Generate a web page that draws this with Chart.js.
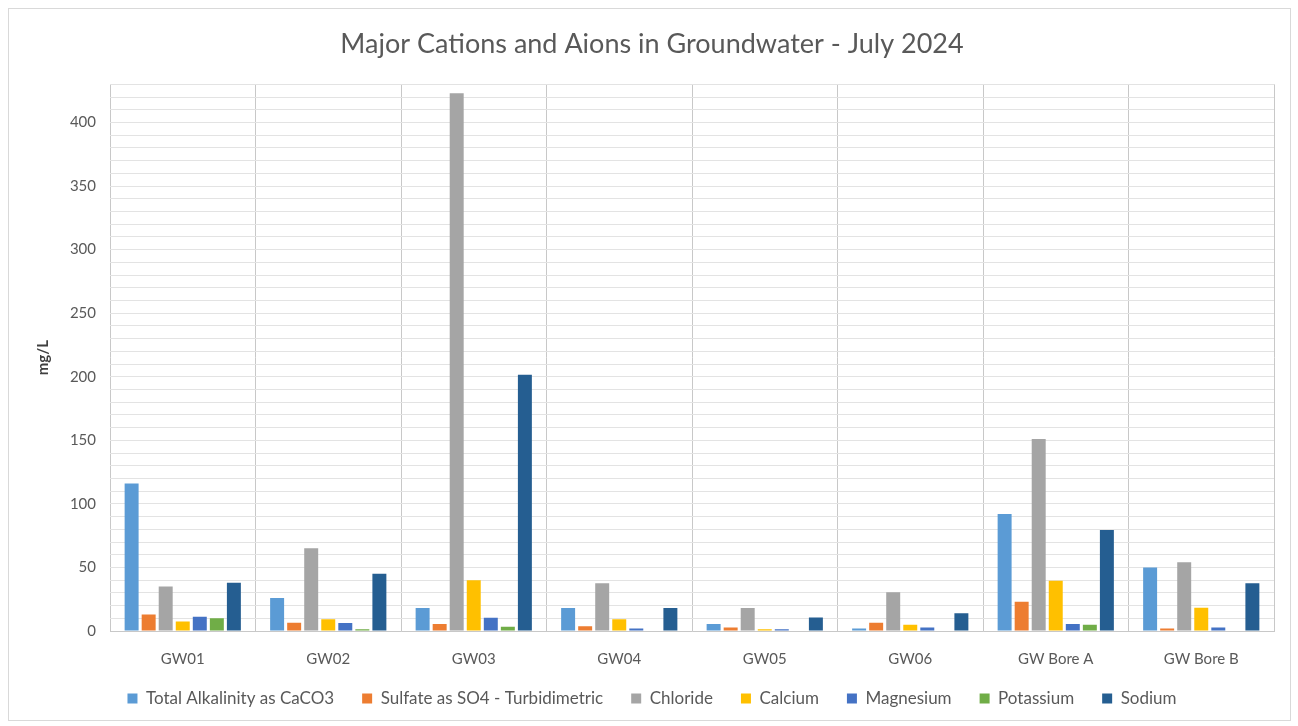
<!DOCTYPE html>
<html>
<head>
<meta charset="utf-8">
<script src="https://cdn.jsdelivr.net/npm/chart.js@4/dist/chart.umd.min.js"></script>
<style>
  html, body { margin: 0; padding: 0; background: #ffffff; }
  #wrap { position: relative; width: 1298px; height: 726px; }
  #frame { position: absolute; left: 8px; top: 8px; width: 1281px; height: 711px;
           border: 1px solid #d9d9d9; pointer-events: none; }
</style>
</head>
<body>
<div id="wrap">
  <canvas id="chart" width="1298" height="726"></canvas>
  <div id="frame"></div>
</div>
<script>
const sites = ['GW01', 'GW02', 'GW03', 'GW04', 'GW05', 'GW06', 'GW Bore A', 'GW Bore B'];

const alkalinity = [116, 26, 18, 18, 5.6, 2, 92, 50];
const sulfate    = [13, 6.5, 5.6, 3.7, 2.8, 6.5, 23, 2];
const chloride   = [35, 65, 423, 37.5, 18, 30.5, 151, 54];
const calcium    = [7.5, 9.3, 40, 9.3, 1.4, 5, 39.5, 18.3];
const magnesium  = [11.3, 6.2, 10.4, 2, 1.4, 2.8, 5.6, 2.8];
const potassium  = [10, 1.4, 3.4, 0, 0, 0, 5, 0];
const sodium     = [38, 45, 201.5, 18, 10.7, 14, 79.5, 37.5];

const seriesNames = ['Total Alkalinity as CaCO3', 'Sulfate as SO4 - Turbidimetric', 'Chloride',
                     'Calcium', 'Magnesium', 'Potassium', 'Sodium'];
const seriesColors = ['#5B9BD5', '#ED7D31', '#A5A5A5', '#FFC000', '#4472C4', '#70AD47', '#255E91'];
const seriesValues = [alkalinity, sulfate, chloride, calcium, magnesium, potassium, sodium];

const yMax = 430;
const yLabelStep = 50;

const FONT = 'Lato, "Open Sans", sans-serif';
const TEXT = '#595959';

const datasets = seriesNames.map((name, i) => ({
  label: name,
  data: seriesValues[i],
  backgroundColor: seriesColors[i],
  borderWidth: 0,
  categoryPercentage: 0.82,
  barPercentage: 0.82
}));

// Lift the legend row a little closer to the category labels after layout.
const legendLift = {
  id: 'legendLift',
  afterLayout(chart) {
    const lg = chart.legend;
    if (lg) { lg.top -= 9; lg.bottom -= 9; }
  }
};

new Chart(document.getElementById('chart'), {
  type: 'bar',
  data: { labels: sites, datasets },
  plugins: [legendLift],
  options: {
    responsive: false,
    animation: false,
    devicePixelRatio: 1,
    layout: { padding: { left: 30, right: 24, top: 22, bottom: 0 } },
    plugins: {
      title: {
        display: true,
        text: 'Major Cations and Aions in Groundwater - July 2024',
        color: TEXT,
        font: { family: FONT, size: 27, weight: 'normal' },
        padding: { top: 6, bottom: 24 }
      },
      legend: {
        position: 'bottom',
        labels: {
          color: TEXT,
          font: { family: FONT, size: 17 },
          boxWidth: 10,
          boxHeight: 10,
          padding: 28
        }
      },
      tooltip: { enabled: false }
    },
    scales: {
      x: {
        afterFit: (scale) => { scale.height = 40; },
        grid: { color: '#c8c8c8', lineWidth: 1, offset: true, drawTicks: false },
        border: { color: '#c8c8c8' },
        ticks: { color: TEXT, font: { family: FONT, size: 15 }, padding: 19 }
      },
      y: {
        min: 0,
        max: yMax,
        afterFit: (scale) => { scale.width = 80; },
        ticks: {
          stepSize: 10,
          autoSkip: false,
          color: TEXT,
          font: { family: FONT, size: 15 },
          padding: 14,
          callback: (v) => (v % yLabelStep === 0 ? v : '')
        },
        grid: { color: '#e3e3e3', lineWidth: 1, drawTicks: false },
        border: { display: false },
        title: {
          display: true,
          text: 'mg/L',
          color: '#404040',
          font: { family: FONT, size: 15, weight: 'bold' },
          padding: { bottom: 0 }
        }
      }
    }
  }
});
</script>
</body>
</html>
